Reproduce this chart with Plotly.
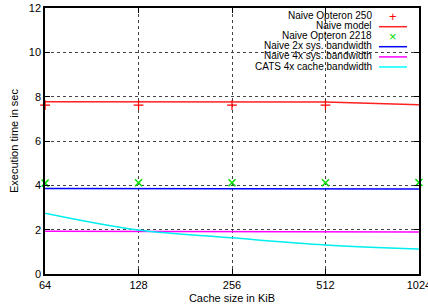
import plotly.graph_objects as go
import math

cache_kib = [64, 128, 256, 512, 1024]
opteron250_x = [64, 128, 256, 512]
opteron250 = [7.62, 7.62, 7.62, 7.62]
naive_model = [7.77, 7.77, 7.77, 7.76, 7.64]
opteron2218 = [4.10, 4.12, 4.12, 4.12, 4.13]
naive_2x = [3.86, 3.86, 3.86, 3.86, 3.83]
naive_4x = [1.93, 1.93, 1.93, 1.93, 1.90]
cats_4x = [2.74, 1.98, 1.63, 1.31, 1.13]
x_ticks = [64, 128, 256, 512, 1024]
y_ticks = [0, 2, 4, 6, 8, 10, 12]

legend_names = ["Naive Opteron 250", "Naive model", "Naive Opteron 2218",
                "Naive 2x sys. bandwidth", "Naive 4x sys. bandwidth", "CATS 4x cache bandwidth"]

FONT = "Liberation Sans, Arial, sans-serif"

fig = go.Figure()
fig.add_trace(go.Scatter(x=cache_kib, y=naive_model, mode="lines",
                         line=dict(color="#ff2020", width=1.5), cliponaxis=False))
fig.add_trace(go.Scatter(x=opteron250_x, y=opteron250, mode="markers",
                         marker=dict(symbol="cross-thin", size=7, line=dict(color="red", width=1.2)),
                         cliponaxis=False))
fig.add_trace(go.Scatter(x=cache_kib, y=naive_2x, mode="lines",
                         line=dict(color="#0000ff", width=1.5), cliponaxis=False))
fig.add_trace(go.Scatter(x=cache_kib, y=naive_4x, mode="lines",
                         line=dict(color="#ff00ff", width=1.5), cliponaxis=False))
fig.add_trace(go.Scatter(x=cache_kib, y=cats_4x, mode="lines", line_shape="spline",
                         line=dict(color="#00eeee", width=1.5), cliponaxis=False))
fig.add_trace(go.Scatter(x=cache_kib, y=opteron2218, mode="markers",
                         marker=dict(symbol="x-thin", size=7, line=dict(color="#00dd00", width=1.5)),
                         cliponaxis=False))

# manual gnuplot-style legend
styles = [("marker", "red", "+"), ("line", "#ff2020", None), ("marker", "#00dd00", "×"),
          ("line", "#0000ff", None), ("line", "#ff00ff", None), ("line", "#00ffff", None)]
W, H = 428, 307
ml, mr, mt, mb = 45, 9, 8, 33
pw, ph = W - ml - mr, H - mt - mb
def px(x):
    return (x - ml) / pw
def py(y):
    return 1 - (y - mt) / ph

row_y = [15.7, 25.7, 35.7, 45.7, 55.9, 66.0]
for name, (kind, col, sym), yy in zip(legend_names, styles, row_y):
    fig.add_annotation(x=px(374), y=py(yy), xref="paper", yref="paper", text=name,
                       showarrow=False, xanchor="right", yanchor="middle",
                       font=dict(family=FONT, size=10, color="black"))
    if kind == "line":
        fig.add_shape(type="line", xref="paper", yref="paper", x0=px(379), x1=px(407),
                      y0=py(yy + 1), y1=py(yy + 1), line=dict(color=col, width=1.5))
    else:
        fig.add_annotation(x=px(393), y=py(yy + 1), xref="paper", yref="paper", text=sym,
                           showarrow=False, xanchor="center", yanchor="middle",
                           font=dict(family=FONT, size=13, color=col))

eps = 0.0004
fig.update_layout(
    width=W, height=H, margin=dict(l=ml, r=mr, t=mt, b=mb, autoexpand=False),
    paper_bgcolor="white", plot_bgcolor="white", showlegend=False,
    font=dict(family=FONT, size=11, color="black"),
)
fig.update_xaxes(type="log", range=[math.log10(64) - eps, math.log10(1024) + eps],
                 tickvals=x_ticks, ticktext=[str(v) for v in x_ticks], automargin=False,
                 ticklabeloverflow="allow",
                 showline=True, linecolor="black", linewidth=1.5, mirror="ticks",
                 ticks="inside", ticklen=5, tickcolor="black",
                 showgrid=True, gridcolor="#444444", griddash="dot", gridwidth=1,
                 zeroline=False,
                 title=dict(text="Cache size in KiB", font=dict(size=11), standoff=4))
fig.update_yaxes(range=[0, 12], tickvals=y_ticks, automargin=False,
                 ticklabeloverflow="allow",
                 showline=True, linecolor="black", linewidth=1.5, mirror="ticks",
                 ticks="inside", ticklen=5, tickcolor="black",
                 showgrid=True, gridcolor="#444444", griddash="dot", gridwidth=1,
                 zeroline=False,
                 title=dict(text="Execution time in sec", font=dict(size=11), standoff=8))

fig.write_html("out.html", config={"displayModeBar": False},
               post_script="document.body.style.margin='0';document.body.style.overflow='hidden';")
